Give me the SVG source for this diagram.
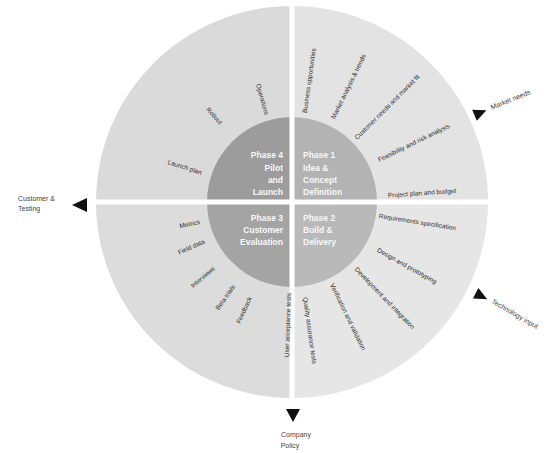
<svg xmlns="http://www.w3.org/2000/svg" width="544" height="453" viewBox="0 0 544 453">
<style>
.inner{font-family:"Liberation Sans",Arial,sans-serif;font-size:8.5px;fill:#f8f8f8;font-weight:bold}
.spoke{font-family:"Liberation Sans",Arial,sans-serif;font-size:6.5px;fill:#2e2e2e}
.lbl{font-family:"Liberation Sans",Arial,sans-serif;font-size:7px;fill:#444}
.arrow{fill:#111}
</style>
<rect width="544" height="453" fill="#fff"/>
<g id="ring">
<path d="M292,202 L96,202 A196,196 0 0 1 292,6 Z" fill="#dadada"/>
<path d="M292,202 L292,6 A196,196 0 0 1 488,202 Z" fill="#e3e3e3"/>
<path d="M292,202 L488,202 A196,196 0 0 1 292,398 Z" fill="#e6e6e6"/>
<path d="M292,202 L292,398 A196,196 0 0 1 96,202 Z" fill="#dcdcdc"/>
</g>
<g id="phase4">
<path d="M292,202 L207,202 A85,85 0 0 1 292,117 Z" fill="#9c9c9c"/>
<text class="inner" text-anchor="end"><tspan x="283" y="158">Phase 4</tspan><tspan x="283" y="171">Pilot</tspan><tspan x="283" y="183">and</tspan><tspan x="283" y="195">Launch</tspan></text>
</g>
<g id="phase1">
<path d="M292,202 L292,117 A85,85 0 0 1 377,202 Z" fill="#b3b3b3"/>
<text class="inner"><tspan x="303" y="158">Phase 1</tspan><tspan x="303" y="171">Idea &amp;</tspan><tspan x="303" y="183">Concept</tspan><tspan x="303" y="195">Definition</tspan></text>
</g>
<g id="phase2">
<path d="M292,202 L377,202 A85,85 0 0 1 292,287 Z" fill="#b9b9b9"/>
<text class="inner"><tspan x="303" y="221">Phase 2</tspan><tspan x="303" y="233">Build &amp;</tspan><tspan x="303" y="245">Delivery</tspan></text>
</g>
<g id="phase3">
<path d="M292,202 L292,287 A85,85 0 0 1 207,202 Z" fill="#a4a4a4"/>
<text class="inner" text-anchor="end"><tspan x="283" y="221">Phase 3</tspan><tspan x="283" y="233">Customer</tspan><tspan x="283" y="245">Evaluation</tspan></text>
</g>
<g id="dividers" stroke="#fff" stroke-width="5">
<line x1="292" y1="3" x2="292" y2="401"/>
<line x1="93" y1="202" x2="491" y2="202"/>
</g>
<g id="spokes">
<text class="spoke" transform="translate(292 202) rotate(-82)" x="90" y="2.3">Business opportunities</text>
<text class="spoke" transform="translate(292 202) rotate(-64)" x="93" y="2.3">Market analysis &amp; trends</text>
<text class="spoke" transform="translate(292 202) rotate(-45)" x="90" y="2.3">Customer needs and market fit</text>
<text class="spoke" transform="translate(292 202) rotate(-26)" x="96" y="2.3">Feasibility and risk analysis</text>
<text class="spoke" transform="translate(292 202) rotate(-4)" x="96" y="2.3">Project plan and budget</text>
<text class="spoke" transform="translate(292 202) rotate(9)" x="88" y="2.3">Requirements specification</text>
<text class="spoke" transform="translate(292 202) rotate(29)" x="98" y="2.3">Design and prototyping</text>
<text class="spoke" transform="translate(292 202) rotate(46)" x="92" y="2.3">Development and integration</text>
<text class="spoke" transform="translate(292 202) rotate(64)" x="91" y="2.3">Verification and validation</text>
<text class="spoke" transform="translate(292 202) rotate(82)" x="96" y="2.3">Quality assurance tests</text>
<text class="spoke" transform="translate(292 202) rotate(-88)" x="-91" y="2.3" text-anchor="end">User acceptance tests</text>
<text class="spoke" transform="translate(292 202) rotate(-66)" x="-104" y="2.3" text-anchor="end">Feedback</text>
<text class="spoke" transform="translate(292 202) rotate(-55)" x="-102" y="2.3" text-anchor="end">Beta trials</text>
<text class="spoke" transform="translate(292 202) rotate(-40)" x="-102" y="2.3" text-anchor="end">Interviews</text>
<text class="spoke" transform="translate(292 202) rotate(-24)" x="-96" y="2.3" text-anchor="end">Field data</text>
<text class="spoke" transform="translate(292 202) rotate(-12)" x="-94" y="2.3" text-anchor="end">Metrics</text>
<text class="spoke" transform="translate(292 202) rotate(18)" x="-95" y="2.3" text-anchor="end">Launch plan</text>
<text class="spoke" transform="translate(292 202) rotate(48)" x="-106" y="2.3" text-anchor="end">Rollout</text>
<text class="spoke" transform="translate(292 202) rotate(74)" x="-91" y="2.3" text-anchor="end">Operations</text>
</g>
<g id="connectors">
<polygon class="arrow" points="72,205 87,198 87,212"/>
<polygon class="arrow" points="286,409 300,409 293,422"/>
<polygon class="arrow" transform="translate(480 113) rotate(-23)" points="7,0 -6,-6 -6,6"/>
<polygon class="arrow" transform="translate(481 296) rotate(27)" points="7,0 -6,-6 -6,6"/>
</g>
<g id="label-left"><text class="lbl"><tspan x="18" y="201">Customer &amp;</tspan><tspan x="18" y="211">Testing</tspan></text></g>
<g id="label-bottom"><text class="lbl" text-anchor="middle"><tspan x="296" y="437">Company</tspan><tspan x="290" y="448">Policy</tspan></text></g>
<g id="label-topright"><text class="lbl" transform="translate(491 108) rotate(-22)" x="0" y="2">Market needs</text></g>
<g id="label-bottomright"><text class="lbl" transform="translate(492 301) rotate(30)" x="0" y="2">Technology input</text></g>
</svg>
